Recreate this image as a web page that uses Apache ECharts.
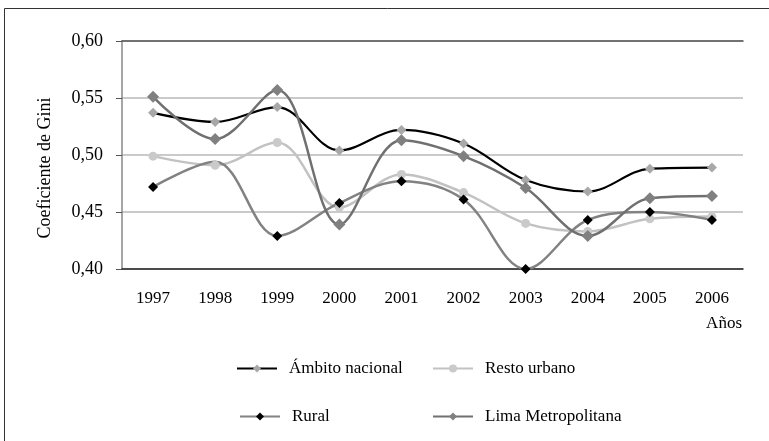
<!DOCTYPE html>
<html><head><meta charset="utf-8">
<script src="https://cdn.jsdelivr.net/npm/echarts@6/dist/echarts.min.js"></script>
<style>html,body{margin:0;padding:0;background:#fff}#c{width:769px;height:441px}</style>
</head><body><div id="c"></div>
<script>
const years = ['1997','1998','1999','2000','2001','2002','2003','2004','2005','2006'];
const yTickLabels = ['0,40','0,45','0,50','0,55','0,60'];
const ambitoNacional = [0.537,0.529,0.542,0.504,0.522,0.510,0.478,0.468,0.488,0.489];
const restoUrbano = [0.499,0.491,0.511,0.454,0.483,0.467,0.440,0.433,0.444,0.446];
const rural = [0.472,0.494,0.429,0.458,0.477,0.461,0.400,0.443,0.450,0.443];
const limaMetropolitana = [0.551,0.514,0.557,0.439,0.513,0.499,0.471,0.429,0.462,0.464];
const seriesNames = ['Ámbito nacional','Resto urbano','Rural','Lima Metropolitana'];

const FONT = 'Liberation Serif';
const chart = echarts.init(document.getElementById('c'));
const legendBase = {
  orient:'horizontal', itemWidth:40, itemHeight:10,
  textStyle:{fontFamily:FONT, fontSize:17, color:'#000', padding:[0,0,0,7]},
  selectedMode:false
};
// Rural: the 1998 point shows no marker in the original
const ruralData = rural.map((v,i)=> i===1 ? {value:v, symbol:'none'} : v);
chart.setOption({
  animation:false,
  textStyle:{fontFamily:FONT},
  graphic:[
    {type:'rect', shape:{x:4.5,y:8.5,width:900,height:600}, style:{fill:'none',stroke:'#333',lineWidth:1}, silent:true},
    {type:'text', x:45, y:168, rotation:Math.PI/2, style:{text:'Coeficiente de Gini', font:'18px "Liberation Serif"', fill:'#000', textAlign:'center', textVerticalAlign:'middle'}},
    {type:'text', x:742, y:324, style:{text:'Años', font:'17px "Liberation Serif"', fill:'#000', textAlign:'right', textVerticalAlign:'middle'}}
  ],
  grid:{left:122, right:26, top:41, bottom:172, containLabel:false},
  legend:[
    Object.assign({}, legendBase, {data:[seriesNames[0]], left:231, top:355}),
    Object.assign({}, legendBase, {data:[seriesNames[1]], left:427, top:355}),
    Object.assign({}, legendBase, {data:[seriesNames[2]], left:234, top:403}),
    Object.assign({}, legendBase, {data:[seriesNames[3]], left:427, top:403})
  ],
  xAxis:[{
    type:'category', data:years, boundaryGap:true,
    axisLine:{lineStyle:{color:'#222', width:1.5}},
    axisTick:{show:false},
    axisLabel:{fontFamily:FONT, fontSize:17, color:'#000', margin:21}
  },{
    type:'category', data:years, position:'top', boundaryGap:true,
    axisLine:{show:true, onZero:false, lineStyle:{color:'#555', width:1.5}},
    axisTick:{show:false}, axisLabel:{show:false}
  }],
  yAxis:{
    type:'value', min:0.4, max:0.6, interval:0.05,
    axisLine:{show:true, lineStyle:{color:'#888', width:1.5}},
    axisTick:{show:true, length:6, lineStyle:{color:'#555'}},
    axisLabel:{fontFamily:FONT, fontSize:18, color:'#000', margin:19,
      formatter:(v)=>{const i=Math.round((v-0.4)/0.05); return yTickLabels[i];}},
    splitLine:{show:true, lineStyle:{color:'#b8b8b8', width:1.5}}
  },
  series:[
    {name:seriesNames[0], type:'line', data:ambitoNacional, smooth:0.35,
      symbol:'diamond', symbolSize:10, lineStyle:{color:'#000', width:2.2},
      itemStyle:{color:'#a8a8a8'}},
    {name:seriesNames[1], type:'line', data:restoUrbano, smooth:0.35,
      symbol:'circle', symbolSize:9, lineStyle:{color:'#c2c2c2', width:2.5},
      itemStyle:{color:'#cacaca'}},
    {name:seriesNames[2], type:'line', data:ruralData, smooth:0.35,
      symbol:'diamond', symbolSize:10, lineStyle:{color:'#828282', width:2.5},
      itemStyle:{color:'#000'}},
    {name:seriesNames[3], type:'line', data:limaMetropolitana, smooth:0.35,
      symbol:'diamond', symbolSize:12, lineStyle:{color:'#707070', width:2.5},
      itemStyle:{color:'#808080'}}
  ]
});
</script></body></html>
